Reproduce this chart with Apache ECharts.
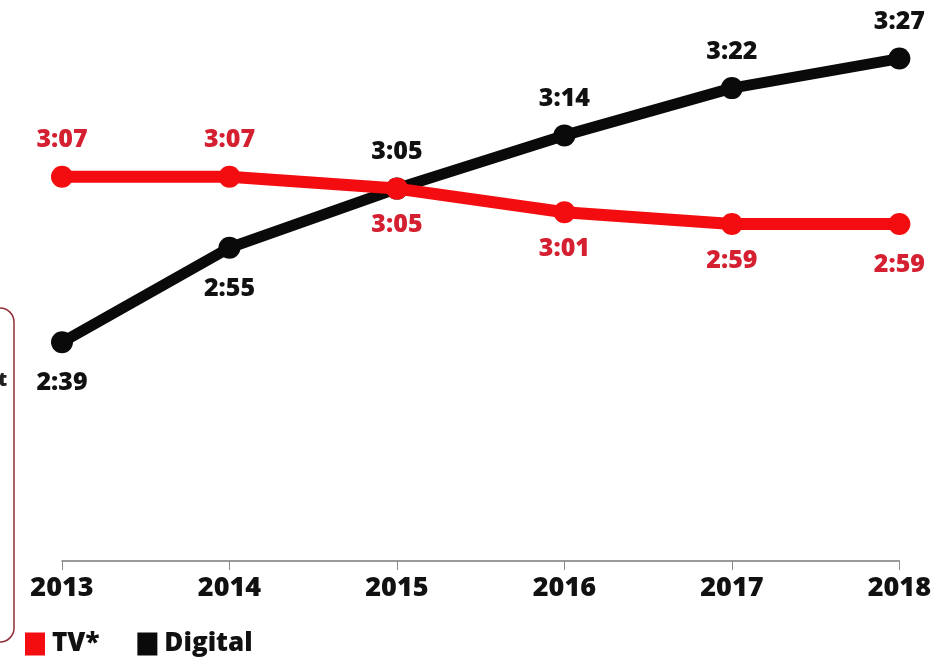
<!DOCTYPE html>
<html>
<head>
<meta charset="utf-8">
<script src="https://cdn.jsdelivr.net/npm/echarts@6/dist/echarts.min.js"></script>
<style>
  html, body { margin: 0; padding: 0; background: #ffffff; }
  #chart { width: 934px; height: 668px; }
</style>
</head>
<body>
<div id="chart"></div>
<script>
// Daily time spent, in minutes (h:mm shown on labels)
const years = ['2013', '2014', '2015', '2016', '2017', '2018'];
const tvMinutes = [187, 187, 185, 181, 179, 179];
const digitalMinutes = [159, 175, 185, 194, 202, 207];

// label placement per point: true = above the marker
const tvAbove = [true, true, false, false, false, false];
const digitalAbove = [false, false, true, true, true, true];

const FONT = '"Open Sans", "Noto Sans", sans-serif';

function hmm(v) {
  const h = Math.floor(v / 60);
  const m = v % 60;
  return h + ':' + (m < 10 ? '0' : '') + m;
}

function buildData(values, above, color, gaps) {
  return values.map((v, i) => ({
    value: v,
    label: {
      show: true,
      position: above[i] ? 'top' : 'bottom',
      distance: gaps[i],
      formatter: p => hmm(p.value),
      color: color,
      fontFamily: FONT,
      fontWeight: 800,
      fontSize: 25
    }
  }));
}

const chart = echarts.init(document.getElementById('chart'));
chart.setOption({
  animation: false,
  backgroundColor: '#ffffff',
  grid: { left: 62, right: 34, top: 29, bottom: 107 },
  xAxis: {
    type: 'category',
    data: years,
    boundaryGap: false,
    axisLine: { show: true, lineStyle: { color: '#7a7a7a', width: 1.5 } },
    axisTick: { show: true, length: 9, lineStyle: { color: '#8a8a8a', width: 1 } },
    axisLabel: {
      color: '#111111',
      fontFamily: FONT,
      fontWeight: 800,
      fontSize: 27,
      margin: 14
    },
    splitLine: { show: false }
  },
  yAxis: {
    type: 'value',
    min: 122,
    max: 212,
    show: false,
    splitLine: { show: false }
  },
  legend: {
    left: 20,
    top: 626,
    itemWidth: 20,
    itemHeight: 23,
    itemGap: 38,
    icon: 'rect',
    textStyle: {
      color: '#111111',
      fontFamily: FONT,
      fontWeight: 800,
      fontSize: 26,
      padding: [0, 0, 0, 2]
    },
    data: [
      { name: 'TV*', itemStyle: { color: '#f40d10' } },
      { name: 'Digital', itemStyle: { color: '#0a0a0a' } }
    ]
  },
  series: [
    {
      name: 'Digital',
      type: 'line',
      data: buildData(digitalMinutes, digitalAbove, '#111111', [17, 18, 13, 13, 13, 13]),
      symbol: 'circle',
      symbolSize: 22,
      lineStyle: { color: '#0a0a0a', width: 11 },
      itemStyle: { color: '#0a0a0a' },
      z: 2
    },
    {
      name: 'TV*',
      type: 'line',
      data: buildData(tvMinutes, tvAbove, '#d42030', [13, 13, 13, 13, 13, 17]),
      symbol: 'circle',
      symbolSize: 22,
      lineStyle: { color: '#f40d10', width: 12 },
      itemStyle: { color: '#f40d10' },
      z: 3
    }
  ],
  graphic: [
    {
      type: 'rect',
      shape: { x: -30, y: 308, width: 44, height: 334, r: 14 },
      style: { fill: 'none', stroke: '#8e2f36', lineWidth: 1.5 }
    },
    {
      type: 'text',
      left: -2,
      top: 370,
      style: {
        text: 't',
        fill: '#222222',
        font: '800 20px "Open Sans", sans-serif'
      }
    }
  ]
});
</script>
</body>
</html>
